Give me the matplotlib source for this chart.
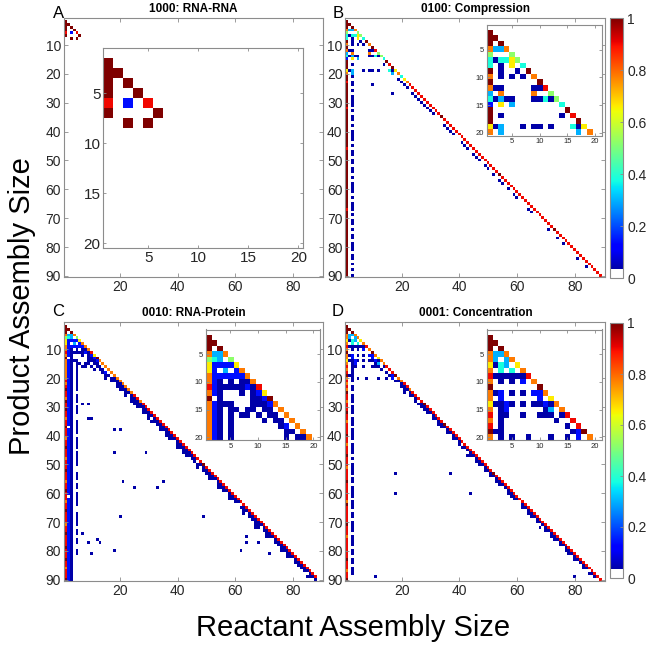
import numpy as np
import matplotlib
matplotlib.use('Agg')
import matplotlib.pyplot as plt
from matplotlib.colors import ListedColormap

W, H = 646, 651
SIZE = 90
# colour codes -> value on the 0..1 colour scale
LEVEL = {'K': 1.0, 'R': 0.9, 'O': 0.78, 'Y': 0.66, 'G': 0.52, 'C': 0.38,
         'L': 0.30, 'B': 0.14, 'N': 0.037}

# ---------------- Panel A: 1000 RNA-RNA ----------------
A_rows = [2, 3, 4, 5, 6, 7, 3, 4, 5, 6, 7, 6, 8, 8]
A_cols = [1, 1, 1, 1, 1, 1, 2, 3, 4, 5, 6, 3, 3, 5]
A_vals = [1.0, 1.0, 1.0, 1.0, 0.9, 1.0, 1.0, 1.0, 1.0, 0.9, 1.0, 0.14, 1.0, 1.0]

# ---------------- Panel B: 0100 Compression ----------------
B_top = ["", "K", "KK", "K.K", "OLLO", "G...G", "CNCCYG", "C.N.Y.C", "K.N..N.K",
         "O.N.N.N.O", "K........K", "ONN.....NNR", "L.O.....O..G", "CNLNN...NNCNG",
         "B.Y.L........C", "K.............K", "K.N..........N.R", "K...............K",
         "YNL...N.NN.N...CNY", "O.L.............L.O"]
B_col1 = "KKRKKKKKKKKRKKKKKKKKKKKKKRKKKKKKKKKKKKKKKKKKKKRKKKKKKKKKKKKKKKKKKKKKKK"
B_col3 = "N.NN.N.NNNN.N.NN.N.NNNN.N.NN.NN.NN.N.NNNN.N.NNN.N.NN.N.NN.NNN.NN.N.N.N"
B_diag = "CYORRRRRRRRRRRKRRRRRRRRRRRRRRRRRRRKRRRRRRRRRRRRRRRRRRKRRRRRRRRRRRRRRRR"
B_pt_rows = [22, 23, 24, 25, 27, 28, 29, 30, 31, 32, 33, 34, 38, 39, 40, 41, 44, 45, 46,
             48, 49, 50, 52, 53, 55, 57, 58, 60, 62, 63, 67, 68, 74, 77, 79, 84, 87, 27, 24]
B_pt_cols = [19, 20, 21, 22, 24, 25, 26, 27, 28, 29, 30, 31, 35, 36, 37, 38, 41, 42, 43,
             45, 46, 47, 49, 50, 52, 54, 55, 57, 59, 60, 64, 65, 71, 74, 76, 81, 84, 17, 10]

# ---------------- Panel C: 0010 RNA-Protein ----------------
C_top = ["", "K", "KK", "K.K", "OLLO", "GCL.G", "YBBBBY", "YB.L.BO", "OBBBBBBO",
         "OBN.N.NNO", "RBNNNNNBNR", "OBN...N.NBY", "K.N.....NNBK", "OBNNN...NNNBO",
         "OBN.NN.NN.NN.O", "OBN.N..N.N.NN.O", "OBN.N.....N.NN.O", "OBN.N........NB.O",
         "OBN.N.........NN.O", "OBN.N.........N.NNO"]
C_col1 = "RORKRROKRRKRRORRKRRRORRKRRRORRRKRRRORRKRRRORRKRRRRORRKRRRRKRRRKRRORRRK"
C_col2 = "BBBBBBBBBBBBBBBB.BBBBBBBBBBBBBBBBBBBBBBB.BBBBBBBBBBBBBBBBBBBBBBBBBBBBB"
C_col3 = "NNNNNNNNNNNNNNNNNNNNNNNNNNNNNNNNNNNNNNNNNNNNNNNNNNNNNNNNNNNNNNNNNNNNNN"
C_col5 = "NNNN.NNN.NNN..NNNNN.NNNN.NNNNN..NNN.NN.NNNNN..NNNNN.NN.NN..NN........."
C_diag = "OOOOORRORRRRRRRRRRRRRRRRRRRRRKRRRRRRRRRRRRRRRRRRRRRRRRRRRRRRRRRRRRRRR"
C_off2 = "NNNNNNNNNNNNNNNNNNNNNNNNNNNN.NNNNNNNNNNNNNN.NNNNNNNNNNNNNNNNNNNNNNNNNN"
C_off3 = "NNNNN.NNNNNNN.NNNNNNN.NNNNNNNN.NNNN.NNN.NNN.NN.NNNN.NNN.NNNNNN.NNNN.N."
C_off4 = "N.NN.N.NNN.N.NN..N.NN..N.NN...N...N..N...N....N...N...N....N.N......N."
C_pt_rows = [29, 29, 34, 34, 38, 38, 46, 46, 56, 58, 58, 56, 68, 68, 74, 77, 76, 77,
             80, 81, 80, 75, 77, 77, 81, 71, 72, 72, 16]
C_pt_cols = [7, 9, 9, 10, 18, 20, 18, 29, 21, 25, 33, 35, 20, 49, 7, 9, 12, 13,
             18, 10, 62, 64, 64, 68, 72, 67, 67, 68, 7]

# ---------------- Panel D: 0001 Concentration ----------------
D_top = ["", "K", "KK", "K.K", "OLLO", "OL.LO", "YNCL.Y", "O.C.C.O", "RNNNNNNR",
         "O.N.N.B.O", "K........K", "ONB.N.N.BBO", "O.B......B.Y", "YNNBN.N.NNBNO",
         "O.NB......NL.O", "R.NN..N..NNN.NR", "O.N.........N..R", "R.N...........N.R",
         "KNN............NBK", "O.N.N..N...N..N.B.O"]
D_col1 = "ROROKRRORRRKRRORRRRKRRORRRKRRRORRRRKRRRRRROKRRRRRRKRRRORRRRRRRKRRRORRK"
D_col3 = "N.NN.NNN.NNN.NNN.NNNN.NNNN.N.NNNN.NN.NNNN.NNN.NN.NNNN.NNNN.NN.NN.NNN.."
D_diag = "ORRORRRRKRRRRRRKRRRRRRRRRRRRRRRRKRRRRRRRRRRRRRRRRRRRRRRRRRRRRRRRRRRRRR"
D_off2 = "NNNNNNN.NNNNNNNNNNNNNN.NNNNNNNNNNNNNNNNNNN.NNNNNNNNNNNNNNNNNNNNNNN.NN"
D_off3 = "N.NN.N.NNNNN.N.NN.N.N.NN..N.NN.N.N.NN..NNN..N.NN.N..N.NN.N.NN.N..N.N.."
D_pt_rows = [53, 60, 53, 60, 89, 89, 25, 47, 72]
D_pt_cols = [18, 18, 37, 44, 11, 80, 21, 43, 68]


def build(top, cols, offs, pts, sparse=None):
    M = np.full((SIZE, SIZE), np.nan)
    if sparse is not None:
        for r, c, v in zip(*sparse):
            M[r - 1, c - 1] = v
    for r, s in enumerate(top, start=1):
        for c, ch in enumerate(s, start=1):
            if ch != '.':
                M[r - 1, c - 1] = LEVEL[ch]
    for col, s in cols:
        for k, ch in enumerate(s):
            r = 21 + k
            if ch != '.' and r <= SIZE:
                M[r - 1, col - 1] = LEVEL[ch]
    for off, s in offs:
        for k, ch in enumerate(s):
            r = 21 + k
            c = r - off
            if ch != '.' and r <= SIZE and c >= 1:
                M[r - 1, c - 1] = LEVEL[ch]
    if pts is not None:
        for r, c in zip(*pts):
            M[r - 1, c - 1] = LEVEL['N']
    return M


MA = build([], [], [], None, (A_rows, A_cols, A_vals))
MB = build(B_top, [(1, B_col1), (3, B_col3)], [(1, B_diag)], (B_pt_rows, B_pt_cols))
MC = build(C_top, [(1, C_col1), (2, C_col2), (3, C_col3), (5, C_col5)],
           [(1, C_diag), (2, C_off2), (3, C_off3), (4, C_off4)], (C_pt_rows, C_pt_cols))
MD = build(D_top, [(1, D_col1), (3, D_col3)],
           [(1, D_diag), (2, D_off2), (3, D_off3)], (D_pt_rows, D_pt_cols))

jet = plt.cm.jet(np.linspace(0, 1, 256))
jet[:9] = [1, 1, 1, 1]
cmap = ListedColormap(jet)
cmap.set_bad('white')

plt.rcParams['font.family'] = ['Liberation Sans', 'DejaVu Sans']
TICKC = '#262626'
EDGEC = '#8c8c8c'

fig = plt.figure(figsize=(W / 100, H / 100), dpi=100)


def box(x0, y0, x1, y1):
    return [x0 / W, 1 - y1 / H, (x1 - x0) / W, (y1 - y0) / H]


def style(ax, fs, length=3):
    for s in ax.spines.values():
        s.set_color(EDGEC)
        s.set_linewidth(0.8)
    ax.tick_params(direction='in', length=length, width=0.6, color=EDGEC,
                   labelcolor=TICKC, labelsize=fs, top=True, right=True, pad=2)


def draw_main(rect, M, title):
    ax = fig.add_axes(box(*rect))
    im = ax.imshow(M, cmap=cmap, vmin=0, vmax=1, extent=(0.5, SIZE + 0.5, SIZE + 0.5, 0.5),
                   interpolation='nearest', aspect='auto')
    ax.set_xlim(0.5, SIZE + 0.5)
    ax.set_ylim(SIZE + 0.5, 0.5)
    ax.set_xticks([20, 40, 60, 80])
    ax.set_yticks([10, 20, 30, 40, 50, 60, 70, 80, 90])
    style(ax, 10)
    ax.set_title(title, fontsize=8.5, fontweight='bold', pad=4)
    return ax, im


def draw_inset(rect, M, fs, xlim, ylim):
    ax = fig.add_axes(box(*rect))
    ax.imshow(M, cmap=cmap, vmin=0, vmax=1, extent=(0.5, SIZE + 0.5, SIZE + 0.5, 0.5),
              interpolation='nearest', aspect='auto')
    ax.set_xlim(*xlim)
    ax.set_ylim(*ylim)
    ax.set_xticks([5, 10, 15, 20])
    ax.set_yticks([5, 10, 15, 20])
    style(ax, fs, length=2)
    ax.set_facecolor('white')
    return ax


def draw_cbar(rect, im):
    cax = fig.add_axes(box(*rect))
    cb = fig.colorbar(im, cax=cax, ticks=[0, 0.2, 0.4, 0.6, 0.8, 1])
    cb.ax.set_yticklabels(['0', '0.2', '0.4', '0.6', '0.8', '1'])
    cb.outline.set_edgecolor(EDGEC)
    cb.outline.set_linewidth(0.8)
    cb.ax.tick_params(direction='in', length=2, width=0.6, color=EDGEC,
                      labelcolor=TICKC, labelsize=10, pad=3)


axA, imA = draw_main((64, 17.6, 323, 277.4), MA, '1000: RNA-RNA')
axB, imB = draw_main((345.4, 17.6, 605.3, 277.4), MB, '0100: Compression')
axC, imC = draw_main((64, 322, 323, 581), MC, '0010: RNA-Protein')
axD, imD = draw_main((345.4, 322, 605.3, 581), MD, '0001: Concentration')

draw_inset((103.3, 48.3, 303.3, 248.3), MA, 11, (0.5, 20.5), (20.5, 0.5))
draw_inset((487, 25, 601.7, 135.5), MB, 5.5, (0.5, 21.2), (20.5, 0.5))
draw_inset((205.5, 329.5, 320, 440), MC, 5.5, (0.5, 21.2), (20.5, 0.5))
draw_inset((487, 329.5, 601.7, 440), MD, 5.5, (0.5, 21.2), (20.5, 0.5))

draw_cbar((610, 18, 623, 278), imB)
draw_cbar((610, 323, 623, 578), imD)

for lab, x, y in [('A', 59, 13), ('B', 338, 13), ('C', 58, 312), ('D', 338, 312)]:
    fig.text(x / W, 1 - y / H, lab, fontsize=12, ha='center', va='center', color='black')

fig.text(22 / W, 1 - 306 / H, 'Product Assembly Size', rotation=90, fontsize=21,
         ha='center', va='center')
fig.text(353 / W, 1 - 628 / H, 'Reactant Assembly Size', fontsize=21,
         ha='center', va='center')

fig.savefig('out.png', dpi=100)
